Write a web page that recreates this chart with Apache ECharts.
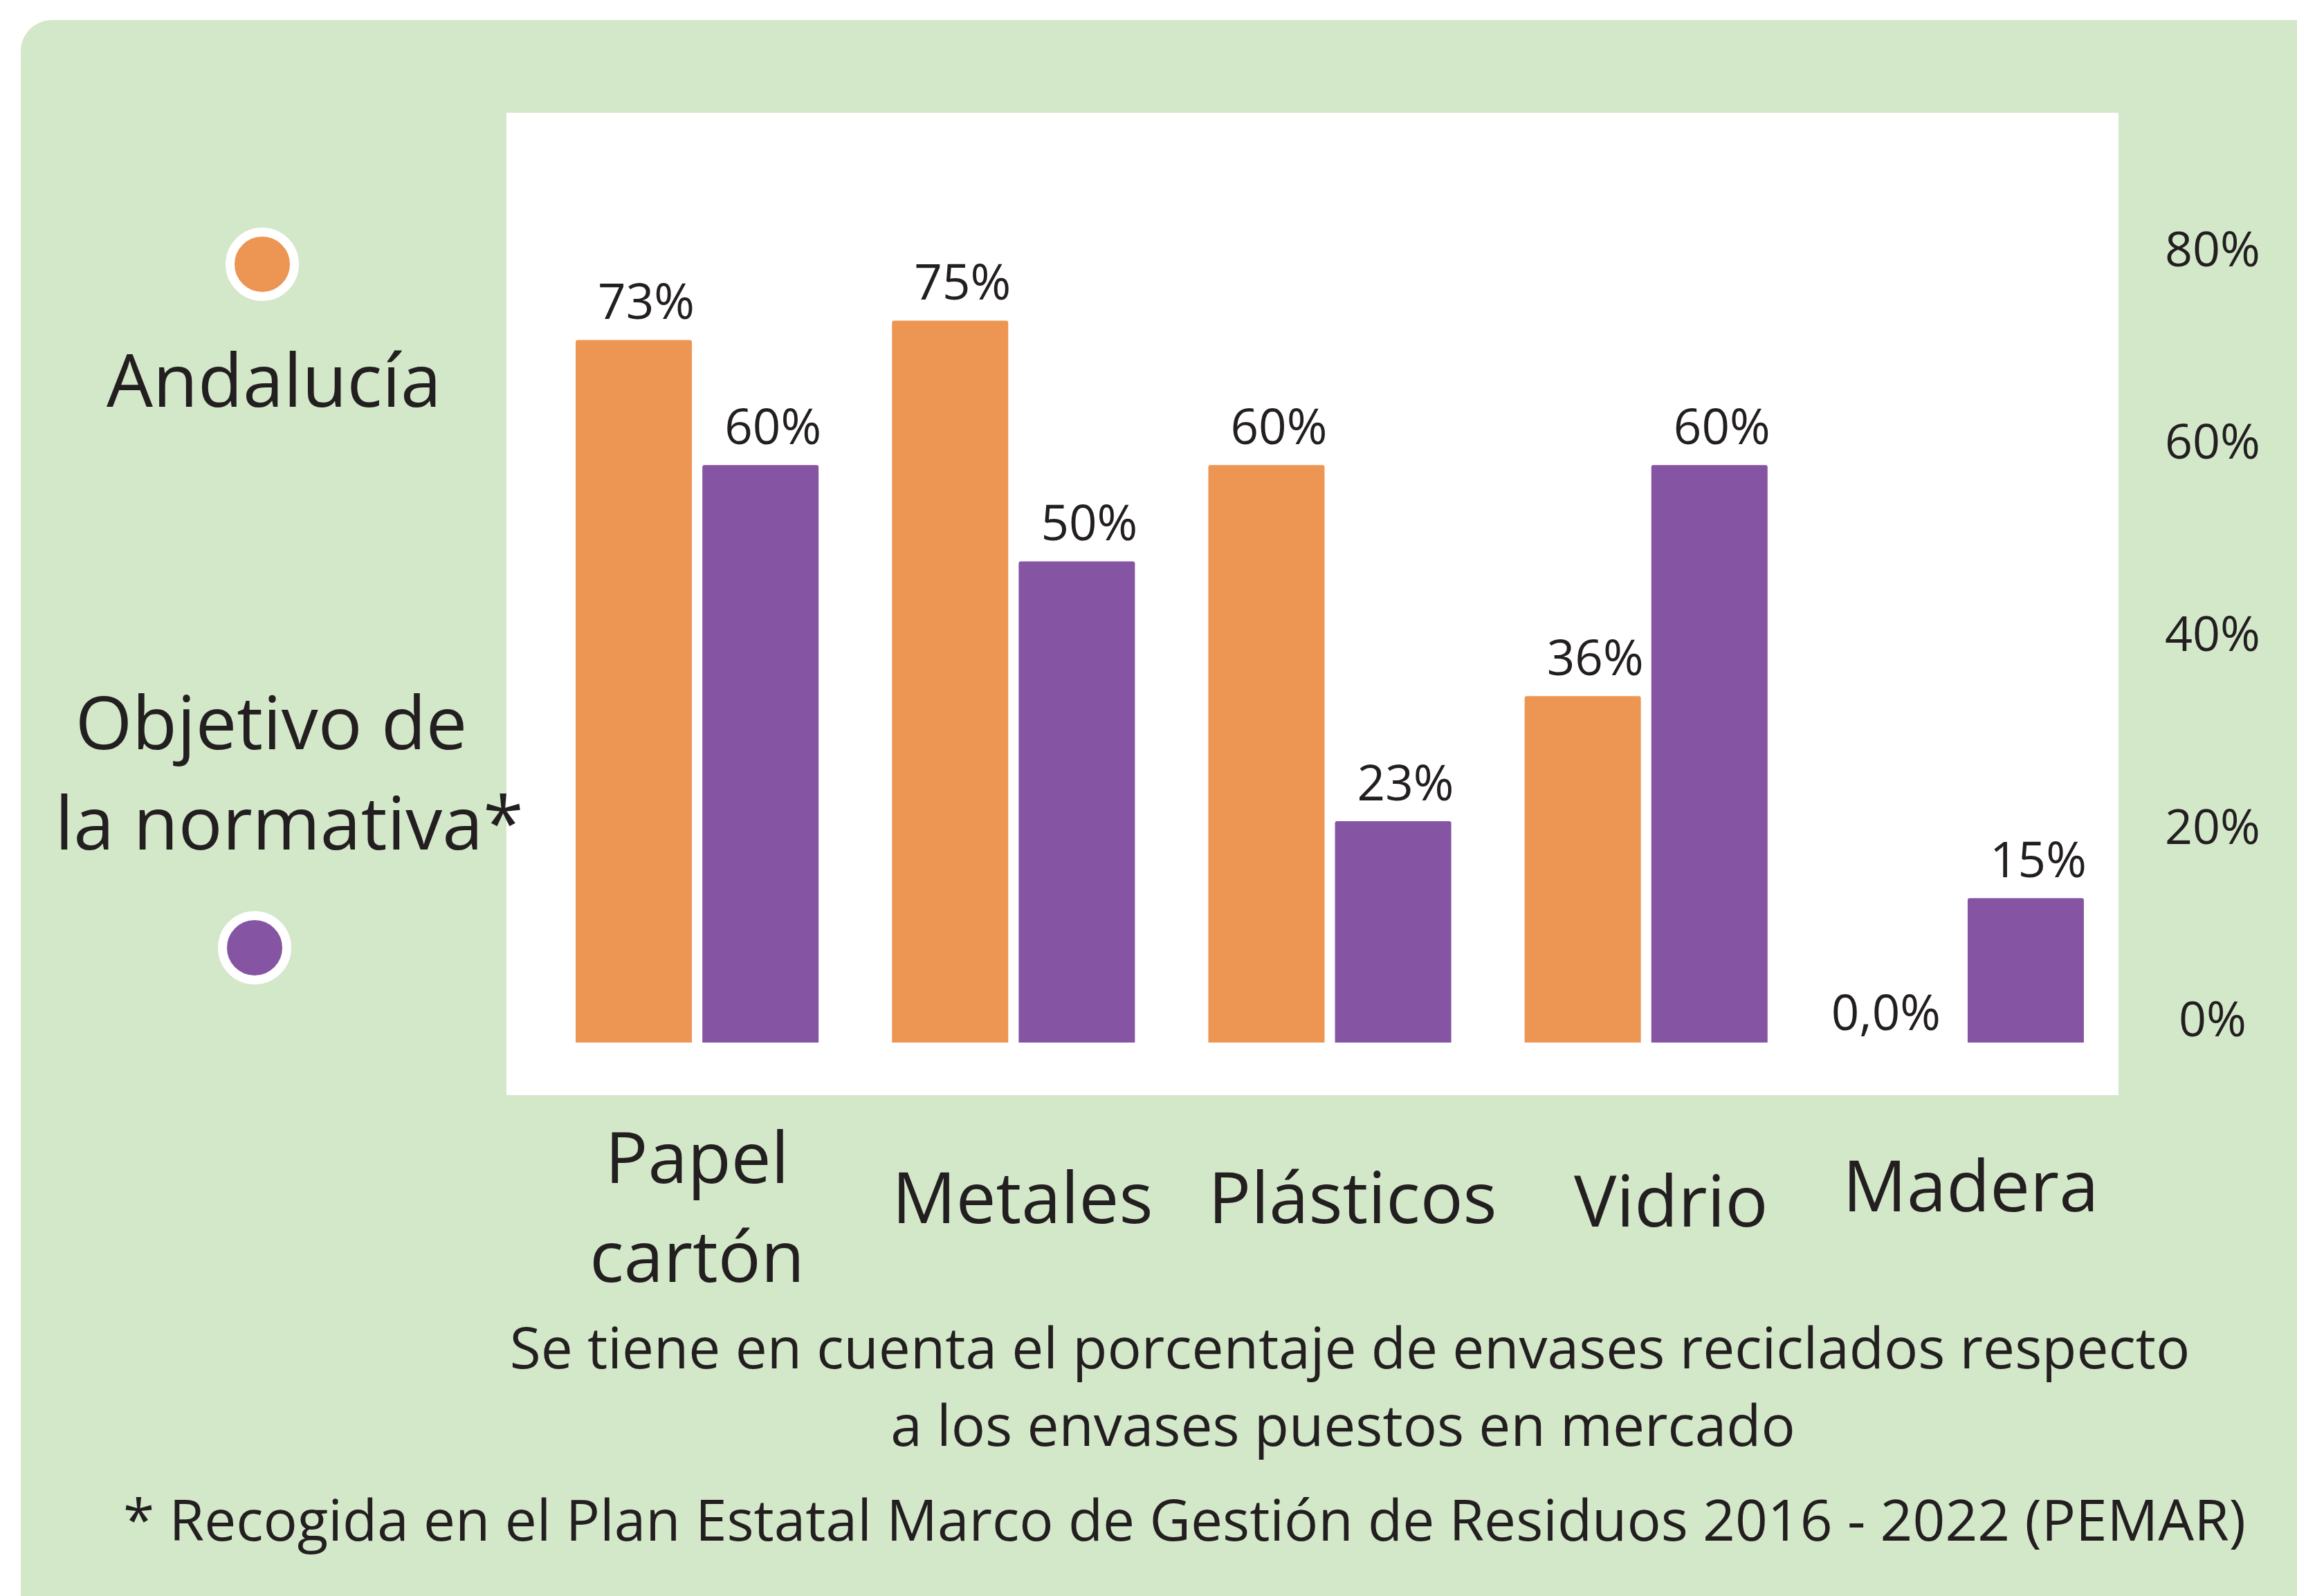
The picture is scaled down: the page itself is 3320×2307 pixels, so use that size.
<!DOCTYPE html>
<html>
<head>
<meta charset="utf-8">
<script src="https://cdn.jsdelivr.net/npm/echarts@6/dist/echarts.min.js"></script>
<style>
html,body{margin:0;padding:0;background:#fff;}
#chart{width:3320px;height:2307px;}
</style>
</head>
<body>
<div id="chart"></div>
<script>
// ---- data ----
const categories = ['Papel\ncartón', 'Metales', 'Plásticos', 'Vidrio', 'Madera'];
const seriesNames = ['Andalucía', 'Objetivo de la normativa*'];
const andalucia = [73, 75, 60, 36, 0];
const objetivo = [60, 50, 23, 60, 15];
const yTickMin = 0, yTickMax = 80, yTickStep = 20;
const notes = [
  'Se tiene en cuenta el porcentaje de envases reciclados respecto',
  'a los envases puestos en mercado',
  '* Recogida en el Plan Estatal Marco de Gestión de Residuos 2016 - 2022 (PEMAR)'
];

// ---- style ----
const FONT = "'Open Sans', 'Noto Sans', sans-serif";
const TXT = '#231F20';
const ORANGE = '#ED9553';
const PURPLE = '#8555A3';
const GREEN = '#D3E7C9';

// per-category label nudges (style only): [top, right, bottom, left] padding
const catPad = [[0,0,0,0],[58,0,0,26],[58,0,0,66],[63,0,0,72],[41,0,0,24]];

const chart = echarts.init(document.getElementById('chart'), null, {renderer:'canvas'});

const fmt = p => p.value === 0 ? '0,0%' : p.value + '%';

const option = {
  backgroundColor: '#ffffff',
  animation: false,
  grid: { left: 779, right: 255, top: 394, bottom: 800, containLabel: false },
  xAxis: {
    type: 'category',
    data: categories.map((c, i) => ({ value: c, textStyle: { padding: catPad[i] } })),
    axisLine: { show: false },
    axisTick: { show: false },
    axisLabel: {
      fontFamily: FONT, fontSize: 103, color: TXT,
      lineHeight: 143, margin: 102, interval: 0
    }
  },
  yAxis: {
    type: 'value', position: 'right',
    min: yTickMin, max: yTickMax, interval: yTickStep,
    axisLine: { show: false }, axisTick: { show: false }, splitLine: { show: false },
    axisLabel: {
      formatter: '{value}%\n', fontFamily: FONT, fontSize: 70, color: TXT,
      align: 'center', margin: 133, lineHeight: 58
    }
  },
  series: [
    {
      name: seriesNames[0], type: 'bar', barWidth: 168, barGap: '9%',
      itemStyle: { color: ORANGE, borderRadius: [3, 3, 0, 0] },
      label: { show: true, position: 'top', distance: 15, offset: [18, 0],
        fontFamily: FONT, fontSize: 71, color: TXT, formatter: fmt },
      data: andalucia.map(v => v === 0
        ? { value: v, label: { distance: 3, offset: [-19, 0] } }
        : v)
    },
    {
      name: seriesNames[1], type: 'bar', barWidth: 168,
      itemStyle: { color: PURPLE, borderRadius: [3, 3, 0, 0] },
      label: { show: true, position: 'top', distance: 15, offset: [18, 0],
        fontFamily: FONT, fontSize: 71, color: TXT, formatter: fmt },
      data: objetivo
    }
  ],
  graphic: [
    { type: 'rect', z: -5, shape: { x: 30, y: 29, width: 3360, height: 2360, r: 45 }, style: { fill: GREEN } },
    { type: 'rect', z: -4, shape: { x: 732, y: 163, width: 2330, height: 1420 }, style: { fill: '#ffffff' } },
    { type: 'circle', z: 5, shape: { cx: 379, cy: 382, r: 46.5 }, style: { fill: ORANGE, stroke: '#ffffff', lineWidth: 13 } },
    { type: 'circle', z: 5, shape: { cx: 368, cy: 1370, r: 46.5 }, style: { fill: PURPLE, stroke: '#ffffff', lineWidth: 13 } },
    { type: 'text', z: 5, style: { text: seriesNames[0], x: 396, y: 558, align: 'center', verticalAlign: 'middle', fontFamily: FONT, fontSize: 106, fill: TXT } },
    { type: 'text', z: 5, style: { text: 'Objetivo de', x: 392, y: 1053, align: 'center', verticalAlign: 'middle', fontFamily: FONT, fontSize: 106, fill: TXT } },
    { type: 'text', z: 5, style: { text: 'la normativa*', x: 418, y: 1198, align: 'center', verticalAlign: 'middle', fontFamily: FONT, fontSize: 106, fill: TXT } },
    { type: 'text', z: 5, style: { text: notes[0], x: 1951, y: 1955, align: 'center', verticalAlign: 'middle', fontFamily: FONT, fontSize: 82, fill: TXT } },
    { type: 'text', z: 5, style: { text: notes[1], x: 1941, y: 2067, align: 'center', verticalAlign: 'middle', fontFamily: FONT, fontSize: 82, fill: TXT } },
    { type: 'text', z: 5, style: { text: notes[2], x: 1712, y: 2204, align: 'center', verticalAlign: 'middle', fontFamily: FONT, fontSize: 82, fill: TXT } }
  ]
};
chart.setOption(option);
</script>
</body>
</html>
